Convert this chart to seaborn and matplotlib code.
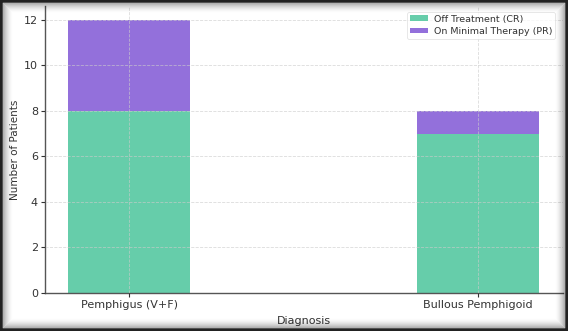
import matplotlib
matplotlib.use("Agg")
import matplotlib.pyplot as plt
from matplotlib.patches import Rectangle
import seaborn as sns
import pandas as pd

diagnoses = ["Pemphigus (V+F)", "Bullous Pemphigoid"]
off_treatment_cr = [8, 7]
minimal_therapy_pr = [4, 1]

green = "#66CDAA"
purple = "#9370DB"

sns.set_theme(style="whitegrid")
plt.rcParams["font.family"] = ["DejaVu Sans"]

df = pd.DataFrame({"Diagnosis": diagnoses, "CR": off_treatment_cr, "PR": minimal_therapy_pr})

W, H = 568, 331
fig = plt.figure(figsize=(W / 100, H / 100), dpi=100)
ax = fig.add_axes([45 / W, (H - 293) / H, 518 / W, 287 / H])

sns.barplot(data=df, x="Diagnosis", y="CR", color=green, width=0.35,
            saturation=1, ax=ax, label="Off Treatment (CR)", zorder=1,
            linewidth=0, edgecolor="none")
sns.barplot(data=df, x="Diagnosis", y="PR", bottom=df["CR"], color=purple,
            width=0.35, saturation=1, ax=ax, label="On Minimal Therapy (PR)", zorder=1,
            linewidth=0, edgecolor="none")

ax.set_xlim(-0.2407, 1.2436)
ax.set_ylim(0, 12.6)
ax.set_yticks([0, 2, 4, 6, 8, 10, 12])
ax.set_axisbelow(False)
ax.grid(True, linestyle="--", color="#cccccc", linewidth=0.6, alpha=0.7, zorder=2)

for side in ["top", "right"]:
    ax.spines[side].set_visible(False)
for side in ["left", "bottom"]:
    ax.spines[side].set_color("#555555")
    ax.spines[side].set_linewidth(1.0)

ax.tick_params(axis="both", labelsize=8, colors="#333333", length=3, width=0.8,
               direction="out", left=True, bottom=True, pad=2)
ax.set_xlabel("Diagnosis", fontsize=8, color="#333333", labelpad=4)
ax.set_ylabel("Number of Patients", fontsize=7.5, color="#333333", labelpad=3)

leg = ax.legend(loc="upper right", fontsize=6.8, frameon=True, handlelength=1.9,
                handleheight=0.55, borderpad=0.3, labelspacing=0.35,
                handletextpad=0.6, borderaxespad=0.3,
                bbox_to_anchor=(0.99, 0.99))
leg.get_frame().set_edgecolor("#dddddd")
leg.get_frame().set_linewidth(0.6)
for t in leg.get_texts():
    t.set_color("#333333")

# framed border with a soft inner shadow
for i in range(10):
    a = 0.30 * (1 - i / 10) ** 1.8
    il, it, ir, ib = 3 + i, 3 + i, 4 + i, 4 + i
    fig.add_artist(Rectangle((il / W, ib / H), (W - il - ir) / W, (H - it - ib) / H,
                             transform=fig.transFigure, fill=False,
                             edgecolor="black", linewidth=0.75, alpha=a, zorder=10))
fig.add_artist(Rectangle((0, 0), 1, 1, transform=fig.transFigure, fill=False,
                         edgecolor="#222222", linewidth=4, zorder=11))

fig.savefig("out.png", dpi=100)
